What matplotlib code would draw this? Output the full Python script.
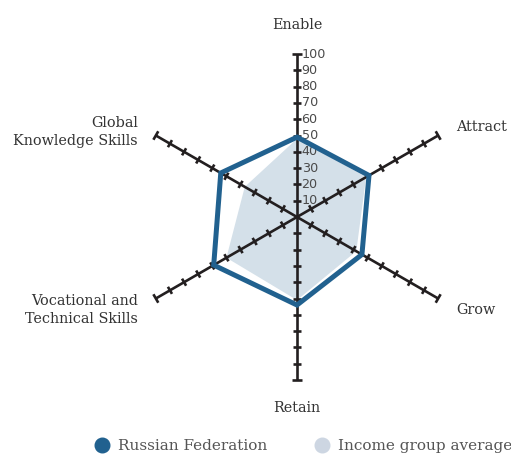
import numpy as np
import matplotlib
matplotlib.use("Agg")
import matplotlib.pyplot as plt
from matplotlib.lines import Line2D

# pillar scores, 0-100
categories = ["Enable", "Attract", "Grow", "Retain",
              "Vocational and\nTechnical Skills", "Global\nKnowledge Skills"]
russia = [49, 51, 46, 54, 59, 54]
income_avg = [48, 49, 42, 51, 50, 37]
tick_values = [10, 20, 30, 40, 50, 60, 70, 80, 90, 100]
series_names = ["Russian Federation", "Income group average"]

# Enable at the top, then clockwise
angles = np.deg2rad([90, 30, -30, -90, 210, 150])

dark = "#231f20"
blue = "#21618f"
fill = "#d4e0e9"
legend_fill = "#cdd6e2"

fig = plt.figure(figsize=(5.11, 4.55), dpi=100)
ax = fig.add_axes([0, 0, 1, 1])
px = 1.63  # pixels per unit
ax.set_xlim(-297 / px, (511 - 297) / px)
ax.set_ylim(-238 / px, 217 / px)
ax.set_aspect("equal")
ax.axis("off")


def xy(r, a):
    return np.cos(a) * np.asarray(r), np.sin(a) * np.asarray(r)


# income group average (filled area)
ax_x, ax_y = xy(income_avg, angles)
ax.fill(ax_x, ax_y, color=fill, lw=0, zorder=1)

# spokes with tick marks
for a in angles:
    ex, ey = xy(100, a)
    ax.plot([0, ex], [0, ey], color=dark, lw=1.9, zorder=2, solid_capstyle="butt")
    px_, py_ = -np.sin(a), np.cos(a)
    for t in tick_values:
        cx, cy = xy(t, a)
        h = 3.0 if t == 100 else 2.5
        ax.plot([cx - px_ * h, cx + px_ * h], [cy - py_ * h, cy + py_ * h],
                color=dark, lw=1.9, zorder=2, solid_capstyle="butt")

# tick labels on the Enable spoke
for t in tick_values:
    ax.text(2.8, t, str(t), fontsize=9.2, color="#4a4a4a",
            va="center", ha="left", zorder=3)

# Russian Federation outline
rx, ry = xy(russia, angles)
ax.fill(rx, ry, facecolor="none", edgecolor=blue, lw=3.6, zorder=4,
        joinstyle="miter")

# category labels
serif = "DejaVu Serif"
label_pos = [(0, 118, "center", "center"),
             (97.5, 55, "left", "center"),
             (97.5, -57, "left", "center"),
             (0, -117, "center", "center"),
             (-97.5, -57, "right", "center"),
             (-97.5, 52, "right", "center")]
for name, (lx, ly, ha, va) in zip(categories, label_pos):
    ax.text(lx, ly, name, ha=ha, va=va, fontsize=10.4, family=serif,
            color="#333333", linespacing=1.4, multialignment="right")

handles = [Line2D([], [], marker="o", ls="none", ms=10.5, color=blue),
           Line2D([], [], marker="o", ls="none", ms=10.5, color=legend_fill)]
leg = fig.legend(handles, series_names, loc="center", ncol=2,
                 bbox_to_anchor=(0.592, 0.02), frameon=False,
                 prop={"family": serif, "size": 11},
                 handletextpad=0.45, columnspacing=3.0, handlelength=1.2)
for txt in leg.get_texts():
    txt.set_color("#555555")

fig.savefig("out.png", dpi=100)
